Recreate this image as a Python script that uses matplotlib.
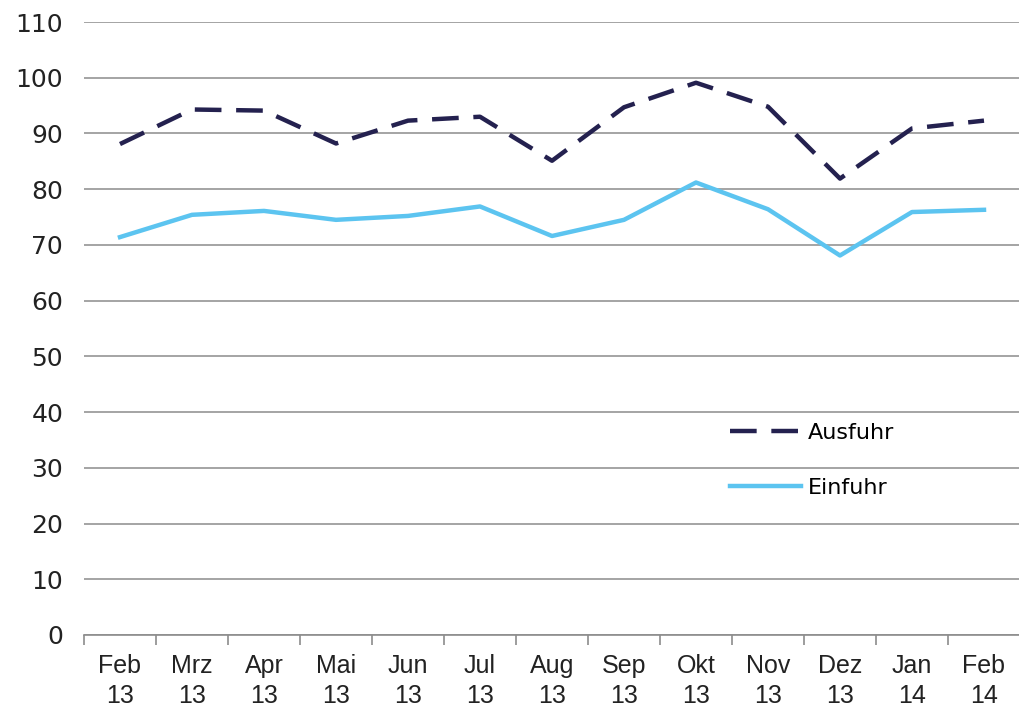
import matplotlib
matplotlib.use("Agg")
import matplotlib.pyplot as plt
import numpy as np

# Monatslabels und Werte
months = ["Feb\n13", "Mrz\n13", "Apr\n13", "Mai\n13", "Jun\n13", "Jul\n13", "Aug\n13",
          "Sep\n13", "Okt\n13", "Nov\n13", "Dez\n13", "Jan\n14", "Feb\n14"]
ausfuhr = [88.1, 94.3, 94.1, 88.2, 92.3, 93.0, 85.1, 94.7, 99.1, 94.8, 81.9, 90.9, 92.3]
einfuhr = [71.4, 75.4, 76.1, 74.5, 75.2, 76.9, 71.6, 74.5, 81.2, 76.4, 68.1, 75.9, 76.3]

plt.rcParams['font.family'] = ['DejaVu Sans']

fig = plt.figure(figsize=(10.2, 7.13), dpi=100)
ax = fig.add_axes([84 / 1020, 1 - 635 / 713, 1 - 84 / 1020, (635 - 22) / 713])

x = np.arange(len(months))
ax.plot(x, ausfuhr, color='#24214f', lw=3.2, dashes=(6, 3.3), label='Ausfuhr')
ax.plot(x, einfuhr, color='#5cc4f0', lw=3.2, label='Einfuhr')

ax.set_xlim(-0.5, len(months) - 0.5)
ax.set_ylim(0, 110)
ax.set_yticks(range(0, 111, 10))
ax.yaxis.grid(True, color='#8c8c8c', lw=1.1)
ax.set_axisbelow(True)

for s in ['top', 'right', 'left']:
    ax.spines[s].set_visible(False)
ax.spines['bottom'].set_color('#8c8c8c')
ax.spines['bottom'].set_linewidth(1.2)

ax.tick_params(axis='y', length=0, labelsize=18, pad=15, colors='#222222')
ax.set_xticks(x)
ax.set_xticklabels(months, fontsize=18, color='#222222', linespacing=1.3,
                   family=['Liberation Sans'])
ax.tick_params(axis='x', which='major', length=0, pad=14)
ax.set_xticks(np.arange(-0.5, len(months), 1), minor=True)
ax.tick_params(axis='x', which='minor', length=7, color='#8c8c8c', width=1.2)

leg = ax.legend(loc='center left', bbox_to_anchor=(0.69, 0.285), frameon=False,
                fontsize=16, handlelength=3.2, handletextpad=0.3, labelspacing=1.6,
                borderpad=0, borderaxespad=0)

fig.savefig('out.png', dpi=100)
